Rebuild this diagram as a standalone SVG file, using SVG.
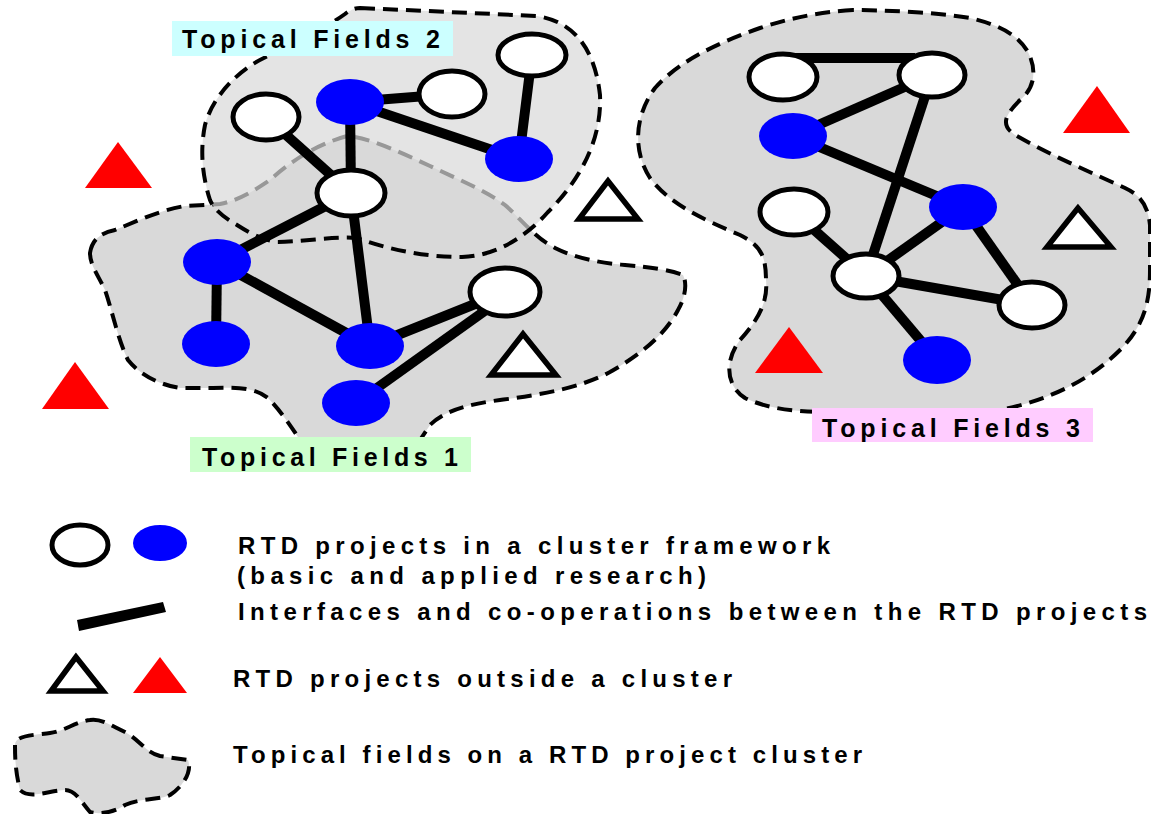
<svg xmlns="http://www.w3.org/2000/svg" width="1151" height="814" viewBox="0 0 1151 814">
<style>
.field{fill:#d9d9d9;stroke:#000;stroke-width:4;stroke-dasharray:15 8;stroke-linejoin:round}
.f2{fill-opacity:0.7}
.w{fill:#fff;stroke:#000;stroke-width:5}
.b{fill:#0000ff}
.e{stroke:#000;stroke-width:10;fill:none}
.tw{fill:#fff;stroke:#000;stroke-width:5.5;stroke-linejoin:miter}
.tr{fill:#ff0000}
.lbl{font-family:"Liberation Sans",Arial,sans-serif;font-weight:bold;font-size:25px;fill:#000}
.leg{font-family:"Liberation Sans",Arial,sans-serif;font-weight:bold;font-size:24px;fill:#000}
</style>
<rect width="1151" height="814" fill="#fff"/>
<g id="field1">
<path class="field" d="M 90,253 C 92,240 100,233 115,230 C 135,222 160,210 185,206 L 220,204 C 240,200 255,190 270,180 C 290,162 315,145 347,136 C 370,138 400,152 430,166 C 455,178 485,190 505,205 C 520,218 535,238 555,248 C 575,258 600,263 625,265 C 650,267 670,270 683,275 C 688,285 684,300 678,310 C 665,335 640,355 610,372 C 580,388 540,395 500,400 C 470,404 445,410 430,425 L 420,440 L 300,440 C 290,425 280,410 268,398 C 255,388 240,387 213,388 L 180,388 C 160,385 140,375 128,360 C 118,340 112,310 105,290 C 98,275 90,265 90,253 Z"/>
</g>
<g id="field2">
<path class="field f2" d="M 360,8 L 537,16 C 575,22 595,50 600,95 C 602,140 580,180 548,212 C 525,238 495,256 462,257 C 425,257 390,250 357,238 C 335,236 300,242 277,242 C 262,240 248,232 237,225 C 225,218 214,210 210,200 C 202,175 200,150 205,125 C 213,95 240,68 270,55 C 300,40 330,25 345,14 C 350,10 355,8 360,8 Z"/>
</g>
<g id="field3">
<path class="field" d="M 853,10 C 820,12 790,18 760,28 C 720,42 680,60 655,88 C 635,115 632,150 650,178 C 670,205 705,220 740,235 C 760,245 766,255 766,280 C 768,300 760,318 740,340 C 725,360 725,385 745,398 C 770,410 800,412 830,412 L 1000,410 C 1050,400 1090,380 1120,350 C 1145,325 1150,300 1150,270 L 1150,225 C 1148,205 1140,195 1125,188 C 1090,172 1050,155 1015,135 C 1000,125 1005,115 1020,100 C 1035,88 1037,70 1028,52 C 1018,35 1000,25 970,18 C 935,12 880,10 853,10 Z"/>
</g>
<g id="connectors">
<line class="e" x1="350" y1="102" x2="452" y2="94"/>
<line class="e" x1="350" y1="102" x2="519" y2="159"/>
<line class="e" x1="532" y1="55" x2="519" y2="159"/>
<line class="e" x1="350" y1="102" x2="351" y2="193"/>
<line class="e" x1="266" y1="117" x2="351" y2="193"/>
<line class="e" x1="351" y1="193" x2="217" y2="262"/>
<line class="e" x1="351" y1="193" x2="370" y2="346"/>
<line class="e" x1="217" y1="262" x2="216" y2="344"/>
<line class="e" x1="217" y1="262" x2="370" y2="346"/>
<line class="e" x1="370" y1="346" x2="505" y2="292"/>
<line class="e" x1="356" y1="403" x2="500" y2="300"/>
<line class="e" x1="795" y1="58" x2="915" y2="58"/>
<line class="e" x1="932" y1="75" x2="793" y2="136"/>
<line class="e" x1="932" y1="75" x2="866" y2="276"/>
<line class="e" x1="793" y1="136" x2="963" y2="207"/>
<line class="e" x1="794" y1="212" x2="866" y2="276"/>
<line class="e" x1="866" y1="276" x2="963" y2="207"/>
<line class="e" x1="963" y1="207" x2="1032" y2="305"/>
<line class="e" x1="866" y1="276" x2="1032" y2="305"/>
<line class="e" x1="866" y1="276" x2="937" y2="360"/>
</g>
<g id="n-f2-w1"><ellipse class="w" cx="266" cy="117" rx="33" ry="23"/></g>
<g id="n-f2-b1"><ellipse class="b" cx="350" cy="102" rx="34" ry="23"/></g>
<g id="n-f2-w2"><ellipse class="w" cx="452" cy="94" rx="33" ry="23"/></g>
<g id="n-f2-w3"><ellipse class="w" cx="532" cy="55" rx="34" ry="21"/></g>
<g id="n-f2-b2"><ellipse class="b" cx="519" cy="159" rx="34" ry="23"/></g>
<g id="n-f2-w4"><ellipse class="w" cx="351" cy="193" rx="34" ry="23"/></g>
<g id="n-f1-b1"><ellipse class="b" cx="217" cy="262" rx="34" ry="23"/></g>
<g id="n-f1-b2"><ellipse class="b" cx="216" cy="344" rx="34" ry="23"/></g>
<g id="n-f1-b3"><ellipse class="b" cx="370" cy="346" rx="34" ry="23"/></g>
<g id="n-f1-b4"><ellipse class="b" cx="356" cy="403" rx="34" ry="23"/></g>
<g id="n-f1-w1"><ellipse class="w" cx="505" cy="292" rx="35" ry="24"/></g>
<g id="n-f3-w1"><ellipse class="w" cx="783" cy="77" rx="34" ry="23"/></g>
<g id="n-f3-w2"><ellipse class="w" cx="932" cy="75" rx="33" ry="22"/></g>
<g id="n-f3-b1"><ellipse class="b" cx="793" cy="136" rx="34" ry="23"/></g>
<g id="n-f3-w3"><ellipse class="w" cx="794" cy="212" rx="34" ry="23"/></g>
<g id="n-f3-b2"><ellipse class="b" cx="963" cy="207" rx="34" ry="23"/></g>
<g id="n-f3-w4"><ellipse class="w" cx="866" cy="276" rx="33" ry="22"/></g>
<g id="n-f3-w5"><ellipse class="w" cx="1032" cy="305" rx="33" ry="23"/></g>
<g id="n-f3-b3"><ellipse class="b" cx="937" cy="360" rx="34" ry="24"/></g>
<g id="t-red1"><polygon class="tr" points="118,142 85,188 152,188"/></g>
<g id="t-red2"><polygon class="tr" points="75,362 42,409 109,409"/></g>
<g id="t-red3"><polygon class="tr" points="1097,86 1063,133 1130,133"/></g>
<g id="t-red4"><polygon class="tr" points="789,327 755,373 823,373"/></g>
<g id="t-white1"><polygon class="tw" points="608,181 579,219 638,219"/></g>
<g id="t-white2"><polygon class="tw" points="523,334 491,375 556,375"/></g>
<g id="t-white3"><polygon class="tw" points="1078,208 1047,247 1111,247"/></g>
<g id="label2"><rect x="172" y="21" width="281" height="35" fill="#ccffff"/><text class="lbl" x="182" y="48" textLength="258" lengthAdjust="spacing">Topical Fields 2</text></g>
<g id="label1"><rect x="190" y="437" width="281" height="35" fill="#ccffcc"/><text class="lbl" x="202" y="466" textLength="256" lengthAdjust="spacing">Topical Fields 1</text></g>
<g id="label3"><rect x="812" y="408" width="281" height="34" fill="#ffccff"/><text class="lbl" x="822" y="437" textLength="258" lengthAdjust="spacing">Topical Fields 3</text></g>
<g id="legend">
<ellipse class="w" cx="80" cy="545" rx="28" ry="20"/>
<ellipse class="b" cx="160" cy="543" rx="27" ry="18"/>
<polygon fill="#000" points="77,620 79,631 166,612 163,602"/>
<polygon class="tw" points="76,657 51,691 103,691"/>
<polygon class="tr" points="160,657 133,693 187,693"/>
<path class="field" d="M 90,720 C 100,718 110,725 125,732 C 140,740 145,752 160,756 L 188,760 C 192,770 185,785 170,795 C 160,800 140,798 125,805 C 115,812 100,815 90,812 C 80,800 75,790 65,790 C 50,790 30,800 20,790 C 15,770 15,755 15,745 C 15,735 35,735 50,733 C 65,731 75,722 90,720 Z"/>
<text class="leg" x="238" y="554" textLength="592" lengthAdjust="spacing">RTD projects in a cluster framework</text>
<text class="leg" x="237" y="584" textLength="469" lengthAdjust="spacing">(basic and applied research)</text>
<text class="leg" x="238" y="620" textLength="909" lengthAdjust="spacing">Interfaces and co-operations between the RTD projects</text>
<text class="leg" x="233" y="687" textLength="499" lengthAdjust="spacing">RTD projects outside a cluster</text>
<text class="leg" x="233" y="763" textLength="629" lengthAdjust="spacing">Topical fields on a RTD project cluster</text>
</g>
</svg>
